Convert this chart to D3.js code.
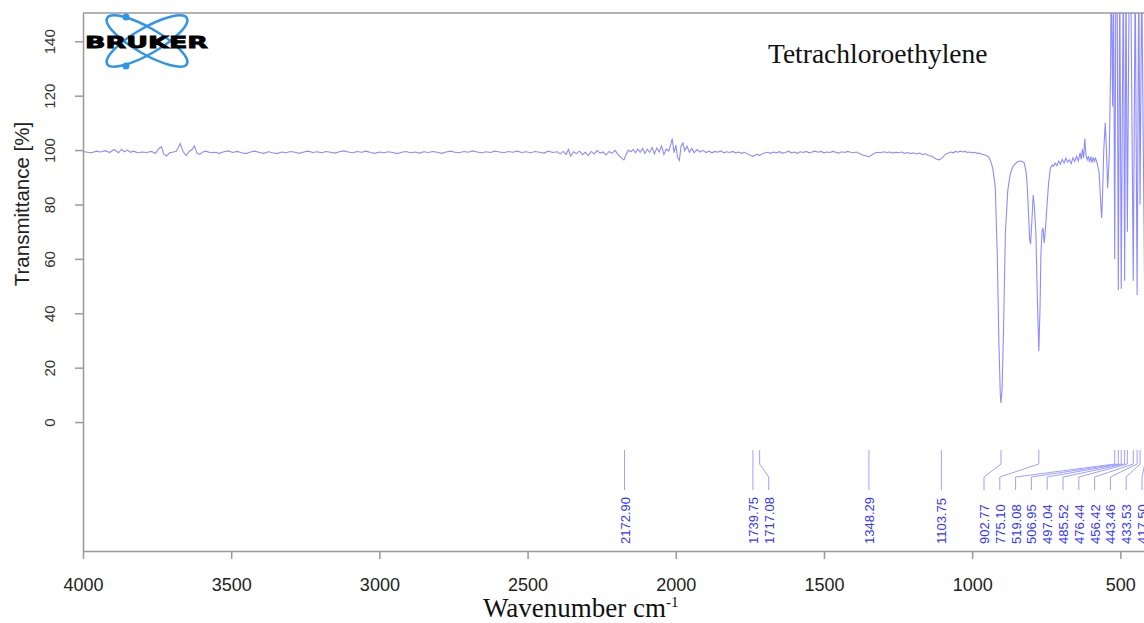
<!DOCTYPE html>
<html>
<head>
<meta charset="utf-8">
<script src="https://cdn.jsdelivr.net/npm/d3@7/dist/d3.min.js"></script>
<style>
  body { margin: 0; background: #fff; }
  svg { display: block; }
</style>
</head>
<body>
<svg width="1144" height="623"></svg>
<script>
// IR spectrum (wavenumber cm-1 / transmittance %)
var wavenumber = [
  4000, 3985, 3970, 3955, 3940, 3925, 3910, 3895, 3880, 3870, 3860, 3850, 3840, 3830, 3815, 3800,
  3785, 3770, 3755, 3745, 3735, 3728, 3718, 3708, 3695, 3685, 3672, 3662, 3652, 3642, 3632, 3624,
  3616, 3606, 3596, 3585, 3570, 3555, 3540, 3525, 3510, 3495, 3480, 3465, 3450, 3435, 3420, 3405,
  3390, 3375, 3360, 3345, 3330, 3315, 3300, 3285, 3270, 3255, 3240, 3225, 3210, 3195, 3180, 3165,
  3150, 3135, 3120, 3105, 3090, 3075, 3060, 3045, 3030, 3015, 3000, 2985, 2970, 2955, 2940, 2925,
  2910, 2895, 2880, 2865, 2850, 2835, 2820, 2805, 2790, 2775, 2760, 2745, 2730, 2715, 2700, 2685,
  2670, 2655, 2640, 2625, 2610, 2595, 2580, 2565, 2550, 2535, 2520, 2505, 2490, 2475, 2460, 2445,
  2430, 2415, 2400, 2390, 2380, 2370, 2362, 2355, 2345, 2335, 2325, 2315, 2305, 2295, 2285, 2275,
  2265, 2255, 2245, 2235, 2225, 2215, 2205, 2195, 2185, 2175, 2168, 2160, 2152, 2144, 2136, 2128,
  2120, 2112, 2104, 2096, 2088, 2080, 2072, 2064, 2056, 2048, 2040, 2032, 2024, 2016, 2012, 2006,
  2000, 1994, 1988, 1982, 1976, 1970, 1962, 1954, 1946, 1938, 1928, 1918, 1908, 1898, 1888, 1878,
  1868, 1858, 1848, 1838, 1828, 1818, 1808, 1798, 1788, 1778, 1768, 1758, 1748, 1740, 1730, 1722,
  1717, 1710, 1700, 1690, 1680, 1670, 1660, 1650, 1640, 1630, 1620, 1610, 1600, 1590, 1580, 1570,
  1560, 1550, 1540, 1530, 1520, 1510, 1500, 1490, 1480, 1470, 1460, 1450, 1440, 1430, 1420, 1410,
  1400, 1390, 1380, 1370, 1360, 1348, 1338, 1328, 1318, 1308, 1298, 1288, 1278, 1268, 1258, 1248,
  1238, 1228, 1218, 1208, 1198, 1188, 1178, 1168, 1158, 1148, 1138, 1128, 1120, 1112, 1104, 1096,
  1088, 1080, 1072, 1064, 1056, 1048, 1040, 1032, 1024, 1016, 1008, 1000, 992, 984, 976, 968,
  960, 952, 944, 936, 930, 922, 915, 910, 905, 902.77, 899, 894, 888, 880, 871, 862,
  854, 846, 838, 830, 824, 818, 814, 810, 806, 803, 799, 794, 790, 785, 780, 775.1,
  771, 768, 764, 761, 757, 752, 748, 742, 736, 730, 726, 720, 714, 708, 702, 696,
  690, 684, 678, 672, 666, 660, 654, 648, 642, 636, 632, 628, 624, 620, 616, 612,
  608, 604, 600, 596, 592, 588, 584, 578, 572, 568, 565, 563, 560, 556, 551, 547,
  543, 540, 537, 533, 531, 528, 526, 523, 519.08, 515, 511, 506.95, 502, 497.04, 493, 490,
  485.52, 481, 476.44, 470, 465, 456.42, 450, 443.46, 438, 433.53, 428, 417.5, 410
];
var transmittance = [
  99.5, 99.2, 99.0, 99.6, 99.3, 99.8, 99.1, 100.2, 99.0, 100.3, 99.4, 100.0, 99.2, 99.6, 99.0, 99.3,
  99.1, 99.5, 98.8, 100.5, 101.2, 98.6, 97.8, 99.0, 99.3, 99.6, 102.4, 99.4, 98.0, 99.5, 100.2, 101.6,
  99.0, 98.4, 99.3, 99.6, 99.0, 99.2, 98.8, 99.4, 99.7, 99.1, 99.5, 99.0, 98.7, 99.3, 99.6, 99.1,
  98.8, 99.4, 99.0, 98.7, 99.3, 99.0, 99.5, 99.2, 98.8, 99.3, 99.6, 99.1, 99.4, 99.0, 99.5, 99.2,
  98.9, 99.4, 99.7, 99.3, 99.0, 99.5, 99.2, 99.6, 99.1, 98.8, 99.3, 99.0, 99.4, 99.1, 98.7, 99.2,
  99.5, 99.0, 99.3, 98.9, 99.4, 99.1, 99.5, 99.2, 98.8, 99.3, 99.6, 99.2, 99.0, 99.5, 99.2, 99.7,
  99.3, 99.0, 99.4, 99.1, 99.6, 99.3, 99.0, 99.5, 99.2, 99.6, 99.1, 99.4, 99.0, 99.5, 99.2, 98.9,
  99.6, 99.1, 99.4, 98.6, 99.5, 98.4, 100.3, 97.8, 99.4, 98.7, 99.6, 98.3, 99.2, 98.0, 99.5, 98.6,
  99.8, 98.9, 99.3, 98.2, 99.5, 98.8, 99.9, 98.4, 97.2, 96.4, 98.2, 100.0, 99.4, 100.2, 99.0, 100.4,
  99.2, 100.6, 98.8, 100.3, 99.1, 101.0, 98.6, 100.8, 99.3, 101.5, 98.4, 100.4, 99.6, 102.4, 104.2, 99.0,
  101.8, 97.4, 96.2, 101.5, 102.6, 99.8, 101.4, 99.2, 100.6, 99.0, 100.2, 99.3, 99.9, 99.1, 99.6, 99.0,
  99.5, 99.2, 99.7, 99.0, 99.4, 99.1, 99.5, 99.0, 99.3, 98.8, 99.2, 98.6, 98.0, 97.7, 98.3, 98.4,
  97.9, 98.6, 98.9, 99.2, 98.8, 99.3, 99.0, 99.4, 98.9, 99.1, 99.6, 99.0, 99.3, 98.8, 99.4, 99.1,
  99.5, 99.0, 99.3, 99.6, 99.2, 99.5, 99.0, 99.3, 99.1, 99.5, 99.2, 98.9, 99.4, 99.1, 99.5, 99.2,
  99.0, 99.3, 98.7, 98.2, 97.9, 97.6, 98.3, 98.9, 99.2, 99.0, 99.4, 99.1, 99.3, 98.9, 99.2, 99.0,
  99.3, 98.8, 99.1, 98.7, 99.0, 98.6, 98.9, 98.4, 98.6, 98.0, 97.8, 97.2, 96.6, 96.4, 96.9, 97.8,
  98.6, 98.9, 99.3, 99.0, 99.5, 99.2, 99.6, 99.3, 99.5, 99.1, 99.3, 99.0, 99.2, 98.8, 98.9, 98.5,
  98.3, 98.0, 97.4, 95.5, 93.0, 86.4, 60.0, 30.0, 10.0, 7.0, 12.0, 35.0, 69.5, 85.0, 91.5, 94.0,
  95.0, 95.8, 96.0, 95.8, 95.2, 92.0, 86.4, 77.0, 67.0, 65.4, 73.0, 83.5, 79.0, 69.5, 45.0, 26.0,
  42.0, 62.0, 70.5, 71.3, 65.8, 72.0, 79.0, 88.0, 93.4, 94.5, 94.0, 95.2, 94.3, 96.0, 94.8, 96.6,
  95.2, 97.0, 95.6, 96.4, 95.0, 97.2, 95.8, 97.8, 96.0, 99.0, 96.6, 100.4, 97.0, 104.2, 98.0, 96.4,
  97.8, 95.6, 97.6, 95.4, 97.4, 95.8, 97.0, 95.0, 92.0, 84.0, 78.0, 75.0, 84.0, 100.0, 110.0, 100.0,
  86.0, 92.0, 100.0, 130.0, 165.0, 135.0, 116.0, 165.0, 60.0, 165.0, 165.0, 48.5, 165.0, 49.0, 120.0, 165.0,
  52.0, 165.0, 70.0, 165.0, 165.0, 52.0, 165.0, 46.7, 165.0, 80.0, 165.0, 41.0, 60.0
];

// picked peaks
var peakWavenumbers = [2172.90, 1739.75, 1717.08, 1348.29, 1103.75, 902.77, 775.10, 519.08,
  506.95, 497.04, 485.52, 476.44, 456.42, 443.46, 433.53, 417.50];

var xTicks = [4000, 3500, 3000, 2500, 2000, 1500, 1000, 500];
var yTicks = [0, 20, 40, 60, 80, 100, 120, 140];

var svg = d3.select('svg');
// note: "top" is taken by window.top, so use plot* names
var plotLeft = 83, plotRight = 1150, plotTop = 13, plotBottom = 551;

var x = d3.scaleLinear().domain([4000, 400]).range([plotLeft, plotRight]);
var y = d3.scaleLinear().domain([-47.4, 150.4]).range([plotBottom, plotTop]);

svg.append('clipPath').attr('id', 'plot-clip')
  .append('rect')
  .attr('x', plotLeft).attr('y', plotTop)
  .attr('width', plotRight - plotLeft).attr('height', plotBottom - plotTop);

// frame (top + right)
svg.append('path')
  .attr('d', 'M' + plotLeft + ',' + plotTop + 'H' + plotRight + 'V' + plotBottom)
  .attr('fill', 'none')
  .attr('stroke', '#999')
  .attr('stroke-width', 1.5);

// spectrum
var points = wavenumber.map(function(w, i) {
  return [w, transmittance[i]];
});
var line = d3.line()
  .x(function(d) { return x(d[0]); })
  .y(function(d) { return y(d[1]); });

svg.append('path')
  .datum(points)
  .attr('clip-path', 'url(#plot-clip)')
  .attr('d', line)
  .attr('fill', 'none')
  .attr('stroke', '#8c8cff')
  .attr('stroke-width', 1.1);

// peak labels - spread them so they don't overlap
var gap = 15.8;
var maxLabelX = plotRight - 8;
var peaks = peakWavenumbers.map(function(w) {
  return { w: w, px: x(w), lx: x(w) };
});
for (var i = 1; i < peaks.length; i++) {
  if (peaks[i].lx < peaks[i - 1].lx + gap) peaks[i].lx = peaks[i - 1].lx + gap;
}
for (var j = peaks.length - 1; j >= 0; j--) {
  var limit = j == peaks.length - 1 ? maxLabelX : peaks[j + 1].lx - gap;
  if (peaks[j].lx > limit) peaks[j].lx = limit;
}

var peakG = svg.append('g');
peakG.selectAll('path').data(peaks).enter().append('path')
  .attr('d', function(d) {
    return 'M' + d.px + ',450V464L' + d.lx + ',477V490';
  })
  .attr('fill', 'none')
  .attr('stroke', '#a0a0ff')
  .attr('stroke-width', 1);

peakG.selectAll('text').data(peaks).enter().append('text')
  .attr('transform', function(d) {
    return 'translate(' + (d.lx + 5) + ',544) rotate(-90)';
  })
  .attr('font-family', 'Liberation Sans, Arial, sans-serif')
  .attr('font-size', 13)
  .attr('fill', '#3535ff')
  .text(function(d) { return d.w.toFixed(2); });

// axes
var xAxis = d3.axisBottom(x).tickValues(xTicks).tickFormat(d3.format('d'))
  .tickSize(8).tickSizeOuter(0);
var gx = svg.append('g')
  .attr('transform', 'translate(0,' + plotBottom + ')')
  .call(xAxis);
gx.selectAll('text')
  .attr('y', 40).attr('dy', 0)
  .attr('font-size', 18)
  .attr('font-family', 'Liberation Sans, Arial, sans-serif')
  .attr('fill', '#222');

var yAxis = d3.axisLeft(y).tickValues(yTicks).tickFormat(d3.format('d'))
  .tickSize(8).tickSizeOuter(0);
var gy = svg.append('g')
  .attr('transform', 'translate(' + plotLeft + ',0)')
  .call(yAxis);
gy.selectAll('text')
  .attr('x', 0).attr('dy', 0)
  .attr('text-anchor', 'middle')
  .attr('transform', 'translate(-28,0) rotate(-90)')
  .attr('font-size', 15)
  .attr('font-family', 'Liberation Sans, Arial, sans-serif')
  .attr('fill', '#333');

svg.selectAll('.domain, .tick line')
  .attr('stroke', '#999')
  .attr('stroke-width', 1.5);

// axis titles
svg.append('text')
  .attr('transform', 'translate(29,204) rotate(-90)')
  .attr('text-anchor', 'middle')
  .attr('font-family', 'Liberation Sans, Arial, sans-serif')
  .attr('font-size', 20.5)
  .attr('fill', '#222')
  .text('Transmittance [%]');

var xt = svg.append('text')
  .attr('x', 483).attr('y', 617)
  .attr('font-family', 'Liberation Serif, Times New Roman, serif')
  .attr('font-size', 27)
  .attr('fill', '#111');
xt.append('tspan').text('Wavenumber cm');
xt.append('tspan').attr('dy', -10).attr('font-size', 15).text('-1');

svg.append('text')
  .attr('x', 768).attr('y', 63)
  .attr('font-family', 'Liberation Serif, Times New Roman, serif')
  .attr('font-size', 27.5)
  .attr('fill', '#111')
  .text('Tetrachloroethylene');

// Bruker logo
var logo = svg.append('g');
[30, -30].forEach(function(a) {
  logo.append('ellipse')
    .attr('cx', 147).attr('cy', 41)
    .attr('rx', 46).attr('ry', 13)
    .attr('transform', 'rotate(' + a + ',147,41)')
    .attr('fill', 'none')
    .attr('stroke', '#2f95ec')
    .attr('stroke-width', 2.5);
});
logo.append('circle').attr('cx', 126).attr('cy', 17).attr('r', 3.5).attr('fill', '#2f95ec');
logo.append('circle').attr('cx', 126).attr('cy', 66).attr('r', 3.5).attr('fill', '#2f95ec');
logo.append('text')
  .attr('x', 85).attr('y', 48)
  .attr('font-family', 'DejaVu Sans, Arial, sans-serif')
  .attr('font-weight', 'bold')
  .attr('font-size', 16)
  .attr('textLength', 123)
  .attr('lengthAdjust', 'spacingAndGlyphs')
  .attr('fill', '#000')
  .attr('stroke', '#000')
  .attr('stroke-width', 0.8)
  .text('BRUKER');
</script>
</body>
</html>
